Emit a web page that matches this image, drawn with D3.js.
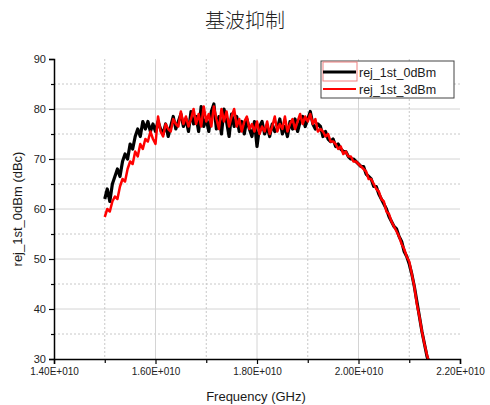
<!DOCTYPE html>
<html>
<head>
<meta charset="utf-8">
<script src="https://cdn.jsdelivr.net/npm/d3@7"></script>
<style>
body { margin: 0; background: #fff; }
text { font-family: "Liberation Sans", Arial, sans-serif; fill: #1a1a1a; }
</style>
</head>
<body>
<script>
var width = 490, height = 405;
var margin = {top: 59, right: 30, bottom: 46, left: 54};
var w = width - margin.left - margin.right;
var h = height - margin.top - margin.bottom;

var title = "基波抑制";
var seriesNames = ["rej_1st_0dBm", "rej_1st_3dBm"];
var xTicks = [1.4e10, 1.6e10, 1.8e10, 2.0e10, 2.2e10];
var xMinor = [1.5e10, 1.7e10, 1.9e10, 2.1e10];
var yTicks = [30, 40, 50, 60, 70, 80, 90];
var yMinor = [35, 45, 55, 65, 75, 85];

// sweep: 1.500E+010 .. 2.140E+010, 0.005E+010 step
var freqStart = 1.5e10, freqStep = 0.005e10;

var rej0dBm = [
  62.0, 64.0, 61.5, 65.0, 66.5, 68.0, 66.5, 69.5, 71.0, 70.0,
  73.0, 72.0, 74.5, 76.0, 74.5, 77.5, 76.0, 77.5, 75.5, 77.0,
  75.5, 77.5, 76.0, 75.0, 77.0, 74.5, 76.5, 78.5, 76.0, 77.5,
  79.0, 76.5, 78.0, 75.5, 79.5, 77.0, 78.5, 75.5, 80.5, 76.5,
  78.0, 75.5, 79.5, 81.0, 76.0, 78.5, 75.0, 80.0, 77.5, 74.5,
  79.0, 76.5, 78.5, 75.5, 77.5, 75.0, 78.0, 76.0, 74.5, 77.5,
  72.5, 76.5, 77.5, 75.0, 76.5, 74.5, 77.0, 75.5, 76.0, 78.0,
  75.0, 76.5, 74.5, 77.5, 76.0, 78.0, 75.5, 77.5, 78.5, 76.5,
  78.0, 79.5, 77.0, 76.0, 77.0,
  76.5, 74.5, 75.5, 74.0, 73.5, 74.0, 72.5, 73.0, 72.0, 71.5,
  71.5, 70.5, 70.0, 70.0, 69.5, 69.0, 68.5, 68.5, 67.0, 66.5,
  66.0, 64.5, 64.5, 63.0, 62.0, 61.0, 60.0, 58.5, 57.5, 56.5,
  56.0, 54.5, 53.5, 51.5, 50.5, 49.0, 47.0, 44.5, 41.5, 38.5,
  35.5, 33.0, 30.5, 29.0
];

var rej3dBm = [
  58.4, 60.0, 59.5, 61.5, 62.5, 62.0, 64.5, 66.0, 65.5, 68.0,
  69.5, 69.0, 71.5, 70.5, 73.0, 72.0, 74.0, 73.5, 75.5, 74.0,
  73.0, 78.5, 75.5, 74.5, 77.0, 76.0, 75.5, 78.0, 77.0, 76.5,
  79.5, 77.0, 78.5, 76.5, 78.0, 80.0, 77.0, 79.0, 76.5, 80.5,
  77.5, 79.0, 76.5, 80.5, 78.0, 76.0, 80.0, 77.5, 79.5, 76.5,
  78.5, 80.0, 76.5, 78.0, 75.5, 77.5, 78.5, 76.0, 77.0, 75.5,
  77.5, 75.0, 76.5, 75.5, 77.5, 75.0, 76.5, 78.5, 75.5, 77.0,
  76.0, 78.5, 75.5, 77.0, 78.0, 76.0, 77.5, 79.0, 77.0, 78.5,
  77.5, 79.0, 77.0, 78.0, 75.5,
  76.0, 75.5, 74.5, 75.0, 73.5, 73.5, 73.0, 72.0, 72.5, 71.0,
  71.5, 70.5, 70.5, 69.5, 69.5, 69.0, 68.5, 68.0, 67.5, 66.0,
  66.0, 65.0, 64.0, 63.5, 62.0, 61.5, 59.5, 59.0, 57.5, 56.5,
  55.5, 54.5, 53.0, 52.0, 50.5, 49.5, 47.0, 44.5, 41.0, 38.5,
  35.5, 33.0, 30.8, 29.0
];

var seriesColors = ["#000000", "#ff0000"];
var seriesWidths = [3.2, 2.5];

var svg = d3.select("body").append("svg")
  .attr("width", width)
  .attr("height", height);

svg.append("text")
  .attr("x", 245).attr("y", 28)
  .attr("text-anchor", "middle")
  .style("font-family", "'Noto Sans CJK SC', sans-serif")
  .style("font-size", "20px")
  .style("font-weight", 300)
  .style("fill", "#222")
  .text(title);

var g = svg.append("g")
  .attr("transform", "translate(" + margin.left + "," + margin.top + ")");

var xScale = d3.scaleLinear().domain([1.4e10, 2.2e10]).range([0, w]);
var yScale = d3.scaleLinear().domain([30, 90]).range([h, 0]);

// grid
g.selectAll(".hmin").data(yMinor).enter().append("line")
  .attr("x1", 0).attr("x2", w)
  .attr("y1", d => yScale(d)).attr("y2", d => yScale(d))
  .attr("stroke", "#c8c8c8").attr("stroke-dasharray", "2,2");
g.selectAll(".hmaj").data(yTicks.slice(1, -1)).enter().append("line")
  .attr("x1", 0).attr("x2", w)
  .attr("y1", d => yScale(d)).attr("y2", d => yScale(d))
  .attr("stroke", "#d4d4d4");
g.selectAll(".vmin").data(xMinor).enter().append("line")
  .attr("y1", 0).attr("y2", h)
  .attr("x1", d => xScale(d)).attr("x2", d => xScale(d))
  .attr("stroke", "#c8c8c8").attr("stroke-dasharray", "2,2");
g.selectAll(".vmaj").data(xTicks.slice(1, -1)).enter().append("line")
  .attr("y1", 0).attr("y2", h)
  .attr("x1", d => xScale(d)).attr("x2", d => xScale(d))
  .attr("stroke", "#d4d4d4");

// curves
g.append("clipPath").attr("id", "clip")
  .append("rect").attr("width", w).attr("height", h);

var line = d3.line()
  .x((d, i) => xScale(freqStart + i * freqStep))
  .y(d => yScale(d));

[rej0dBm, rej3dBm].forEach(function(s, k) {
  g.append("path")
    .datum(s)
    .attr("clip-path", "url(#clip)")
    .attr("fill", "none")
    .attr("stroke", seriesColors[k])
    .attr("stroke-width", seriesWidths[k])
    .attr("stroke-linejoin", "round")
    .attr("d", line);
});

// axes
var fmt = d => (d / 1e10).toFixed(2) + "E+010";

var xAxis = g.append("g")
  .attr("transform", "translate(0," + h + ")")
  .call(d3.axisBottom(xScale).tickValues(xTicks).tickFormat(fmt).tickSize(5).tickPadding(4));
g.append("g")
  .attr("transform", "translate(0," + h + ")")
  .call(d3.axisBottom(xScale).tickValues(xMinor).tickFormat("").tickSize(4))
  .select(".domain").remove();

var yAxis = g.append("g")
  .call(d3.axisLeft(yScale).tickValues(yTicks).tickSize(5).tickPadding(3));
g.append("g")
  .call(d3.axisLeft(yScale).tickValues(yMinor).tickFormat("").tickSize(3))
  .select(".domain").remove();

g.selectAll(".domain").attr("stroke", "#000").attr("stroke-width", 1.5);
g.selectAll(".tick line").attr("stroke", "#000").attr("stroke-width", 1.2);
xAxis.selectAll("text").style("font-size", "10px").style("fill", "#222");
yAxis.selectAll("text").style("font-size", "11px").style("fill", "#222");

svg.append("text")
  .attr("x", margin.left + w / 2 - 1).attr("y", 401)
  .attr("text-anchor", "middle")
  .style("font-size", "13px")
  .text("Frequency (GHz)");

svg.append("text")
  .attr("transform", "translate(22," + (margin.top + h / 2) + ") rotate(-90)")
  .attr("text-anchor", "middle")
  .style("font-size", "13px")
  .text("rej_1st_0dBm (dBc)");

// legend
var legend = svg.append("g").attr("transform", "translate(321,61)");
legend.append("rect")
  .attr("width", 133).attr("height", 37)
  .attr("fill", "#fff").attr("stroke", "#444").attr("stroke-width", 1);
legend.append("rect")
  .attr("x", 2).attr("y", 1).attr("width", 34).attr("height", 19)
  .attr("fill", "none").attr("stroke", "#f08080").attr("stroke-width", 1);
seriesNames.forEach(function(name, k) {
  var yy = 11 + k * 17;
  legend.append("line")
    .attr("x1", 2).attr("x2", 35)
    .attr("y1", yy).attr("y2", yy)
    .attr("stroke", seriesColors[k])
    .attr("stroke-width", k == 0 ? 3 : 2);
  legend.append("text")
    .attr("x", 38).attr("y", yy + 4.5)
    .style("font-size", "12.5px")
    .text(name);
});
</script>
</body>
</html>
